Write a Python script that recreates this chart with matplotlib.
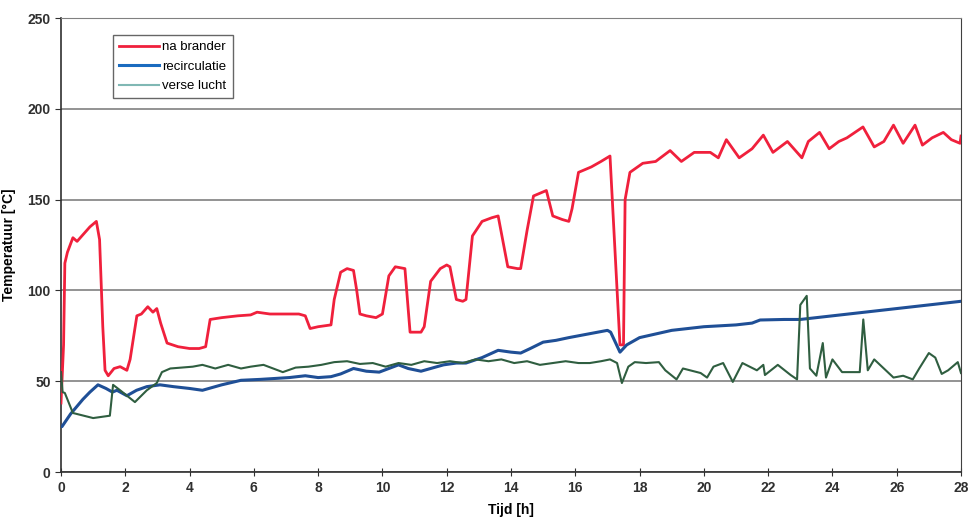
import matplotlib
matplotlib.use("Agg")
import matplotlib.pyplot as plt

plt.rcParams['font.family'] = ['Liberation Sans', 'DejaVu Sans']

# na brander (red)
t_red = [0.0, 0.08, 0.12, 0.2, 0.37, 0.5, 0.7, 0.9, 1.1, 1.2, 1.3, 1.37, 1.47, 1.65, 1.84, 2.05, 2.15, 2.36, 2.5, 2.7, 2.86, 2.98, 3.1, 3.3, 3.64, 4.0, 4.3, 4.5, 4.64, 5.0, 5.5, 5.9, 6.1, 6.5, 7.0, 7.4, 7.6, 7.75, 8.0, 8.4, 8.5, 8.7, 8.9, 9.1, 9.2, 9.3, 9.5, 9.8, 10.0, 10.2, 10.4, 10.7, 10.8, 10.86, 11.2, 11.3, 11.5, 11.8, 12.0, 12.1, 12.3, 12.5, 12.6, 12.8, 13.1, 13.4, 13.6, 13.9, 14.2, 14.3, 14.5, 14.7, 15.1, 15.3, 15.6, 15.8, 15.9, 16.1, 16.5, 16.8, 17.08, 17.39, 17.5, 17.55, 17.7, 18.1, 18.5, 18.95, 19.3, 19.7, 20.2, 20.45, 20.7, 21.1, 21.5, 21.85, 22.15, 22.6, 23.05, 23.25, 23.6, 23.9, 24.2, 24.45, 24.95, 25.3, 25.6, 25.9, 26.2, 26.57, 26.8, 27.1, 27.45, 27.7, 27.97, 28.0]
v_red = [38, 70, 115, 121, 129, 127, 131, 135, 138, 128, 80, 56, 53, 57, 58, 56, 62, 86, 87, 91, 88, 90, 82, 71, 69, 68, 68, 69, 84, 85, 86, 86.5, 88, 87, 87, 87, 86, 79, 80, 81, 95, 110, 112, 111, 100, 87, 86, 85, 87, 108, 113, 112, 90, 77, 77, 80, 105, 112, 114, 113, 95, 94, 95, 130, 138, 140, 141, 113, 112, 112, 133, 152, 155, 141, 139, 138, 145, 165, 168, 171, 174, 70, 70, 150, 165, 170, 171, 177, 171, 176, 176, 173, 183, 173, 178, 185.5, 176, 182, 173, 182, 187, 178, 182, 184, 190, 179, 182, 191, 181, 191, 180, 184, 187, 183, 181, 185]

# recirculatie (blue)
t_blue = [0.0, 0.03, 0.3, 0.68, 0.9, 1.15, 1.4, 1.6, 1.74, 2.05, 2.35, 2.67, 3.08, 3.5, 4.0, 4.4, 5.0, 5.6, 6.2, 7.1, 7.6, 8.0, 8.4, 8.7, 9.1, 9.5, 9.9, 10.2, 10.5, 10.8, 11.2, 11.5, 11.9, 12.3, 12.6, 13.1, 13.6, 14.0, 14.3, 14.6, 15.0, 15.4, 15.8, 16.4, 17.0, 17.1, 17.39, 17.6, 18.0, 18.5, 19.0, 19.5, 20.0, 21.0, 21.5, 21.75, 22.5, 23.0, 23.5, 24.0, 24.5, 25.0, 25.5, 26.0, 26.5, 27.0, 27.5, 28.0]
v_blue = [25, 25, 32, 40, 44, 48, 46, 44, 45, 42, 45, 47, 48, 47, 46, 45, 48, 50.5, 51, 52, 53, 52, 52.5, 54, 57, 55.5, 55, 57, 59, 57, 55.5, 57, 59, 60, 60, 63, 67, 66, 65.5, 68, 71.5, 72.5, 74, 76, 78, 77, 66, 70, 74, 76, 78, 79, 80, 81, 82, 83.7, 84, 84, 85, 86, 87, 88, 89, 90, 91, 92, 93, 94]

# verse lucht (green)
t_green = [0.0, 0.05, 0.12, 0.37, 1.0, 1.52, 1.62, 1.84, 2.3, 2.67, 2.98, 3.14, 3.4, 4.1, 4.4, 4.8, 5.2, 5.6, 5.9, 6.3, 6.6, 6.9, 7.3, 7.7, 8.1, 8.5, 8.9, 9.3, 9.7, 10.1, 10.5, 10.9, 11.3, 11.7, 12.1, 12.5, 12.9, 13.3, 13.7, 14.1, 14.5, 14.9, 15.3, 15.7, 16.1, 16.45, 16.8, 17.08, 17.3, 17.45, 17.65, 17.85, 18.2, 18.6, 18.8, 19.15, 19.35, 19.9, 20.1, 20.3, 20.6, 20.9, 21.2, 21.65, 21.85, 21.9, 22.3, 22.7, 22.9, 23.0, 23.2, 23.3, 23.5, 23.7, 23.8, 24.0, 24.3, 24.85, 24.96, 25.1, 25.3, 25.6, 25.9, 26.2, 26.5, 26.7, 27.0, 27.2, 27.4, 27.6, 27.9, 28.0]
v_green = [55, 44, 43.5, 32.5, 29.7, 31, 48, 45, 38.5, 45, 49, 55, 57, 58, 59, 57, 59, 57, 58, 59, 57, 55, 57.5, 58, 59, 60.5, 61, 59.5, 60, 58, 60, 59, 61, 60, 61, 60, 62, 61, 62, 60, 61, 59, 60, 61, 60, 60, 61, 62, 60, 49, 58, 60.5, 60, 60.5, 56, 51, 57, 54.5, 52, 58, 60, 49.6, 60, 56, 59, 53.4, 59, 53.4, 51, 92, 97, 57, 53, 71, 52, 62, 55, 55, 84, 56, 62, 57, 52, 53, 51, 57, 65.5, 63, 54, 56, 60.5, 54.5]

fig = plt.figure(figsize=(9.76, 5.28), dpi=100)
ax = fig.add_axes([61/976, (528-472)/528, 900/976, 454/528])

ax.plot(t_red, v_red, color='#f0203c', lw=2.0, label='na brander', zorder=3)
ax.plot(t_blue, v_blue, color='#1f4f96', lw=2.2, label='recirculatie', zorder=3)
ax.plot(t_green, v_green, color='#2f5e40', lw=1.5, label='verse lucht', zorder=3)

ax.set_xlim(0, 28)
ax.set_ylim(0, 250)
ax.set_xticks(range(0, 29, 2))
ax.set_yticks(range(0, 251, 50))
ax.yaxis.grid(True, color='#808080', lw=1.2)
ax.set_axisbelow(True)
for s in ['left', 'bottom']:
    ax.spines[s].set_color('#303030')
    ax.spines[s].set_linewidth(1.2)
ax.spines['right'].set_color('#404040')
ax.spines['top'].set_color('#808080')
ax.tick_params(axis='both', labelsize=10, colors='#303030', direction='out', length=4)
ax.tick_params(axis='x', direction='inout', length=6)
for lbl in ax.get_xticklabels() + ax.get_yticklabels():
    lbl.set_fontweight('bold')
ax.set_xlabel('Tijd [h]', fontsize=10, fontweight='bold', labelpad=6)
ax.set_ylabel('Temperatuur [°C]', fontsize=10, fontweight='bold', labelpad=8)

leg = ax.legend(loc='upper left', bbox_to_anchor=(52/900, 1-(17/454)), borderaxespad=0,
                frameon=True, fancybox=False, edgecolor='#404040', fontsize=9.5,
                handlelength=3.0, handletextpad=0.3, borderpad=0.45, labelspacing=0.55)
leg.get_frame().set_linewidth(1.0)
leg.get_lines()[2].set_color('#80b8b4')
leg.get_lines()[1].set_color('#1a6bbf')

fig.savefig('out.png', dpi=100)
